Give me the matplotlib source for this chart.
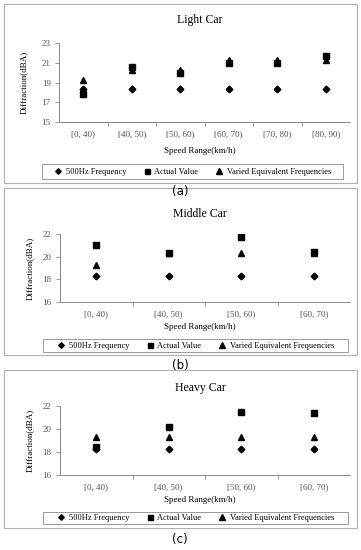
import matplotlib
matplotlib.use("Agg")
import matplotlib.pyplot as plt
from matplotlib.patches import Rectangle
from matplotlib.lines import Line2D

plt.rcParams["font.family"] = ["Liberation Serif", "DejaVu Serif"]

W, H = 361, 550

# --- datos ---
light_cats   = ["[0, 40)", "[40, 50)", "[50, 60)", "[60, 70)", "[70, 80)", "[80, 90)"]
light_500hz  = [18.3, 18.3, 18.3, 18.3, 18.3, 18.3]
light_actual = [17.8, 20.6, 20.0, 21.0, 21.0, 21.7]
light_varied = [19.3, 20.3, 20.3, 21.3, 21.3, 21.3]

middle_cats   = ["[0, 40)", "[40, 50)", "[50, 60)", "[60, 70)"]
middle_500hz  = [18.3, 18.3, 18.3, 18.3]
middle_actual = [21.05, 20.3, 21.7, 20.4]
middle_varied = [19.25, 20.3, 20.3, 20.3]

heavy_cats   = ["[0, 40)", "[40, 50)", "[50, 60)", "[60, 70)"]
heavy_500hz  = [18.3, 18.3, 18.3, 18.3]
heavy_actual = [18.4, 20.2, 21.45, 21.4]
heavy_varied = [19.3, 19.3, 19.3, 19.3]

GRIS = "#8a8a8a"


def box(x0, y0, x1, y1):
    return [x0 / W, 1 - y1 / H, (x1 - x0) / W, (y1 - y0) / H]


def fx(x):
    return x / W


def fy(y):
    return 1 - y / H


fig = plt.figure(figsize=(W / 100, H / 100), dpi=100)

paneles = [
    # titulo, cats, series, ylim, yticks, ejes px, marco px, y titulo, y xlabel, leyenda px, y caption, x ylabel
    ("Light Car", light_cats, (light_500hz, light_actual, light_varied), (15, 23), [15, 17, 19, 21, 23],
     (59, 43, 350, 122), (4, 4, 357, 183), 20, 151, (42, 164, 343, 179), 191, 24),
    ("Middle Car", middle_cats, (middle_500hz, middle_actual, middle_varied), (16, 22), [16, 18, 20, 22],
     (60, 234, 350, 302), (4, 188, 357, 355), 214, 327, (43, 339, 348, 352), 366, 30),
    ("Heavy Car", heavy_cats, (heavy_500hz, heavy_actual, heavy_varied), (16, 22), [16, 18, 20, 22],
     (60, 406, 350, 475), (4, 370, 357, 528), 388, 500, (43, 512, 348, 524), 539, 30),
]

for idx, (titulo, cats, series, ylim, yticks, ejes, marco, yt, yxl, ley, ycap, xyl) in enumerate(paneles):
    # marco exterior
    fig.patches.append(Rectangle((fx(marco[0]), fy(marco[3])), (marco[2] - marco[0]) / W,
                                 (marco[3] - marco[1]) / H, transform=fig.transFigure,
                                 fill=False, edgecolor="#b0b0b0", linewidth=0.8))
    ax = fig.add_axes(box(*ejes))
    n = len(cats)
    x = list(range(n))
    s500, sact, svar = series
    ax.plot(x, s500, "D", color="black", ms=3.4, ls="none")
    ax.plot(x, sact, "s", color="black", ms=5.0, ls="none")
    ax.plot(x, svar, "^", color="black", ms=5.0, ls="none")

    ax.set_xlim(-0.5, n - 0.5)
    ax.set_ylim(*ylim)
    ax.set_yticks(yticks)
    ax.set_xticks([i + 0.5 for i in range(n - 1)])
    ax.set_xticklabels([])
    ax.set_xticks(x, minor=True)
    ax.set_xticklabels(cats, minor=True)
    ax.tick_params(axis="x", which="major", length=3, color=GRIS, width=0.6, direction="out")
    ax.tick_params(axis="x", which="minor", length=0, labelsize=6.5, labelcolor="#555555", pad=6)
    ax.tick_params(axis="y", length=3, color=GRIS, width=0.6, labelsize=6.5, labelcolor="#555555", pad=3)
    for s in ["top", "right"]:
        ax.spines[s].set_visible(False)
    for s in ["left", "bottom"]:
        ax.spines[s].set_color(GRIS)
        ax.spines[s].set_linewidth(0.7)

    fig.text(fx((ejes[0] + ejes[2]) / 2 - 5), fy(yt), titulo, ha="center", va="center", fontsize=8.5)
    fig.text(fx((ejes[0] + ejes[2]) / 2 - 5), fy(yxl), "Speed Range(km/h)", ha="center", va="center",
             fontsize=6.5)
    fig.text(fx(xyl), fy((ejes[1] + ejes[3]) / 2), "Diffraction(dBA)", ha="center", va="center",
             rotation=90, fontsize=6.5)

    handles = [
        Line2D([], [], marker="D", color="black", ms=2.8, ls="none"),
        Line2D([], [], marker="s", color="black", ms=3.6, ls="none"),
        Line2D([], [], marker="^", color="black", ms=3.8, ls="none"),
    ]
    leg = fig.legend(handles, ["500Hz Frequency", "Actual Value", "Varied Equivalent Frequencies"],
                     loc="center", ncol=3, fontsize=6.0, frameon=True, fancybox=False,
                     bbox_to_anchor=(fx(ley[0]), fy(ley[3]), (ley[2] - ley[0]) / W, (ley[3] - ley[1]) / H),
                     borderaxespad=0, handletextpad=0.4, columnspacing=2.0, handlelength=1.0,
                     borderpad=0.2)
    leg.get_frame().set_visible(False)
    fig.patches.append(Rectangle((fx(ley[0]), fy(ley[3])), (ley[2] - ley[0]) / W, (ley[3] - ley[1]) / H,
                                 transform=fig.transFigure, fill=False, edgecolor="#999999", linewidth=0.7))

    fig.text(fx(180), fy(ycap), "(" + "abc"[idx] + ")", ha="center", va="center", fontsize=8.5,
             family=["DejaVu Sans"])

fig.savefig("out.png", dpi=100, facecolor="white")
